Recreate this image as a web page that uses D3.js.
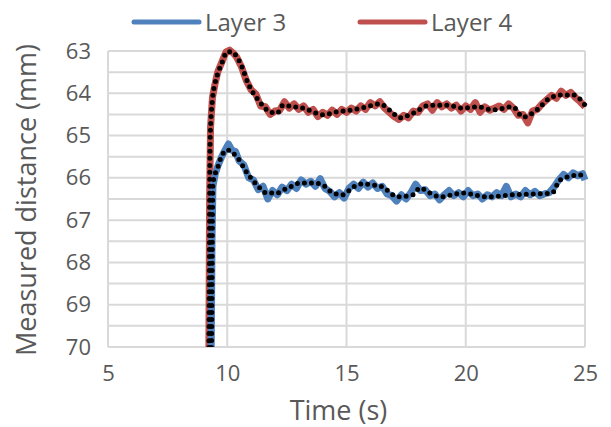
<!DOCTYPE html>
<html>
<head>
<meta charset="utf-8">
<script src="https://cdn.jsdelivr.net/npm/d3@7"></script>
<style>
  body { margin: 0; background: #fff; }
  text { font-family: "Open Sans", sans-serif; fill: #595959; }
  .grid line, .grid path { stroke: #d9d9d9; stroke-width: 2; }
</style>
</head>
<body>
<div id="viz"></div>
<script>
//DATA
const xTicks = [5, 10, 15, 20, 25]
const yTicks = [63, 64, 65, 66, 67, 68, 69, 70]
const yGrid  = [63, 63.5, 64, 64.5, 65, 65.5, 66, 66.5, 67, 67.5, 68, 68.5, 69, 69.5, 70]
const seriesNames = ["Layer 3", "Layer 4"]

// Layer 3 raw (blue)
const layer3Time = [9.30, 9.33, 9.36, 9.40, 9.50, 9.62, 9.75, 9.90, 10.05, 10.2, 10.35, 10.5, 10.7, 10.9,
  11.1, 11.3, 11.5, 11.7, 11.9, 12.1, 12.3, 12.5, 12.7, 12.9, 13.1, 13.3, 13.5, 13.7, 13.9,
  14.1, 14.3, 14.5, 14.7, 14.9, 15.1, 15.3, 15.5, 15.7, 15.9, 16.1, 16.3, 16.5, 16.7, 16.9,
  17.1, 17.3, 17.5, 17.7, 17.9, 18.1, 18.3, 18.5, 18.7, 18.9, 19.1, 19.3, 19.5, 19.7, 19.9,
  20.1, 20.3, 20.5, 20.7, 20.9, 21.1, 21.3, 21.5, 21.7, 21.9, 22.1, 22.3, 22.5, 22.7, 22.9,
  23.1, 23.3, 23.5, 23.7, 23.9, 24.1, 24.3, 24.5, 24.7, 24.9, 25.0]
const layer3Raw = [71.5, 70.0, 67.5, 66.2, 65.9, 65.7, 65.52, 65.35, 65.2, 65.35, 65.38, 65.6, 65.7, 66.0,
  66.05, 66.28, 66.20, 66.50, 66.30, 66.40, 66.22, 66.30, 66.15, 66.25, 66.05, 66.15, 66.08, 66.20, 66.02,
  66.25, 66.32, 66.45, 66.35, 66.48, 66.25, 66.15, 66.25, 66.10, 66.22, 66.12, 66.25, 66.20, 66.38, 66.42,
  66.55, 66.40, 66.50, 66.35, 66.15, 66.30, 66.28, 66.42, 66.38, 66.52, 66.40, 66.30, 66.42, 66.35, 66.45,
  66.30, 66.42, 66.38, 66.50, 66.40, 66.45, 66.35, 66.42, 66.20, 66.45, 66.38, 66.45, 66.30, 66.40, 66.32,
  66.42, 66.38, 66.35, 66.22, 66.05, 65.92, 66.00, 65.88, 65.95, 65.90, 66.05]

// Layer 4 raw (red)
const layer4Time = [9.20, 9.23, 9.26, 9.30, 9.38, 9.48, 9.60, 9.78, 9.95, 10.1, 10.25, 10.4, 10.6, 10.8,
  11.0, 11.2, 11.4, 11.6, 11.8, 12.0, 12.2, 12.4, 12.6, 12.8, 13.0, 13.2, 13.4, 13.6, 13.8,
  14.0, 14.2, 14.4, 14.6, 14.8, 15.0, 15.2, 15.4, 15.6, 15.8, 16.0, 16.2, 16.4, 16.6, 16.8,
  17.0, 17.2, 17.4, 17.6, 17.8, 18.0, 18.2, 18.4, 18.6, 18.8, 19.0, 19.2, 19.4, 19.6, 19.8,
  20.0, 20.2, 20.4, 20.6, 20.8, 21.0, 21.2, 21.4, 21.6, 21.8, 22.0, 22.2, 22.4, 22.6, 22.8,
  23.0, 23.2, 23.4, 23.6, 23.8, 24.0, 24.2, 24.4, 24.6, 24.8, 25.0]
const layer4Raw = [71.5, 70.0, 66.5, 64.8, 64.1, 63.8, 63.5, 63.25, 63.02, 62.98, 63.05, 63.15, 63.38, 63.7,
  63.92, 64.02, 64.30, 64.32, 64.50, 64.42, 64.40, 64.20, 64.35, 64.25, 64.38, 64.30, 64.45, 64.38, 64.55,
  64.45, 64.52, 64.40, 64.50, 64.38, 64.45, 64.35, 64.42, 64.30, 64.38, 64.22, 64.30, 64.20, 64.35, 64.45,
  64.55, 64.62, 64.52, 64.58, 64.42, 64.45, 64.30, 64.25, 64.40, 64.22, 64.32, 64.25, 64.35, 64.28, 64.42,
  64.30, 64.38, 64.22, 64.45, 64.32, 64.40, 64.35, 64.30, 64.38, 64.25, 64.35, 64.52, 64.50, 64.70, 64.42,
  64.38, 64.25, 64.15, 64.05, 64.12, 63.95, 64.05, 63.98, 64.10, 64.20, 64.32]

// moving averages (black dotted)
const layer3AvgTime = [9.30, 9.34, 9.40, 9.61, 9.70, 9.99, 10.41, 10.83, 11.25, 11.67, 12.09, 12.34, 12.63,
  13.05, 13.60, 14.01, 14.43, 14.85, 15.27, 15.69, 16.11, 16.40, 16.70, 17.12, 17.79, 18.08, 18.50,
  18.92, 19.88, 20.89, 21.98, 22.82, 23.62, 23.95, 24.79, 25.0]
const layer3Avg = [71.5, 70.0, 66.12, 65.74, 65.58, 65.34, 65.51, 65.88, 66.17, 66.36, 66.36, 66.29, 66.22,
  66.12, 66.12, 66.17, 66.36, 66.40, 66.22, 66.14, 66.17, 66.19, 66.29, 66.45, 66.40, 66.24, 66.36,
  66.45, 66.36, 66.45, 66.40, 66.38, 66.36, 66.05, 65.93, 66.03]
const layer4AvgTime = [9.20, 9.23, 9.28, 9.31, 9.39, 9.49, 9.61, 9.78, 9.99, 10.20, 10.41, 10.62, 10.87,
  11.37, 11.79, 12.09, 12.34, 12.76, 13.18, 13.60, 14.01, 14.60, 15.27, 15.86, 16.40, 16.95, 17.24,
  17.79, 18.50, 19.21, 19.88, 20.47, 21.14, 21.98, 22.40, 22.99, 23.53, 24.04, 24.50, 25.0]
const layer4Avg = [71.5, 70.0, 65.17, 64.70, 64.09, 63.76, 63.52, 63.28, 63.02, 63.02, 63.14, 63.38, 63.76,
  64.21, 64.44, 64.47, 64.28, 64.32, 64.35, 64.44, 64.51, 64.44, 64.39, 64.32, 64.25, 64.47, 64.58,
  64.47, 64.28, 64.28, 64.35, 64.32, 64.39, 64.32, 64.56, 64.39, 64.11, 64.04, 64.04, 64.28]

const COLORS = ["#4f81bd", "#c0504d"]

//MARGIN CONVENTION
var MARGIN = { LEFT: 108, RIGHT: 26, TOP: 51, BOTTOM: 80 }
var CANVAS = { WIDTH: 611 - MARGIN.LEFT - MARGIN.RIGHT,
               HEIGHT: 427 - MARGIN.TOP - MARGIN.BOTTOM }

const svg = d3.select("#viz").append("svg")
  .attr("width", 611)
  .attr("height", 427)
const svgCanvas = svg.append("g")
  .attr("transform", `translate(${MARGIN.LEFT}, ${MARGIN.TOP})`)

//SCALES
const xScale = d3.scaleLinear().domain([5, 25]).range([0, CANVAS.WIDTH])
const yScale = d3.scaleLinear().domain([63, 70]).range([0, CANVAS.HEIGHT])

// GRID
svgCanvas.append("g").attr("class", "grid")
  .selectAll("line").data(yGrid).join("line")
  .attr("x1", 0).attr("x2", CANVAS.WIDTH)
  .attr("y1", d => yScale(d)).attr("y2", d => yScale(d))
svgCanvas.append("g").attr("class", "grid")
  .selectAll("line").data(xTicks).join("line")
  .attr("x1", d => xScale(d)).attr("x2", d => xScale(d))
  .attr("y1", 0).attr("y2", CANVAS.HEIGHT)

//AXES
const gAxisX = svgCanvas.append("g")
  .attr("transform", `translate(0, ${CANVAS.HEIGHT})`)
  .call(d3.axisBottom(xScale).tickValues(xTicks).tickFormat(d3.format("d")).tickSize(0).tickPadding(18))
const gAxisY = svgCanvas.append("g")
  .call(d3.axisLeft(yScale).tickValues(yTicks).tickFormat(d3.format("d")).tickSize(0).tickPadding(17))
gAxisX.select(".domain").remove()
gAxisY.select(".domain").remove()
gAxisX.selectAll("text").attr("font-size", 22).attr("font-family", null).attr("fill", "#595959")
gAxisY.selectAll("text").attr("font-size", 22).attr("font-family", null).attr("fill", "#595959")

//LABELS
svg.append("text").text("Time (s)")
  .attr("x", MARGIN.LEFT + CANVAS.WIDTH / 2 - 8).attr("y", 420)
  .attr("text-anchor", "middle").attr("font-size", 27)
svg.append("text").text("Measured distance (mm)")
  .attr("transform", "translate(36, 200) rotate(-90)")
  .attr("text-anchor", "middle").attr("font-size", 27)

// LINES
svg.append("clipPath").attr("id", "plotClip")
  .append("rect").attr("x", -5).attr("y", -20)
  .attr("width", CANVAS.WIDTH + 10).attr("height", CANVAS.HEIGHT + 20)

const gLines = svgCanvas.append("g").attr("clip-path", "url(#plotClip)")

const rawLine = d3.line()
  .x(d => xScale(d[0]))
  .y(d => yScale(d[1]))
const avgLine = d3.line()
  .curve(d3.curveMonotoneX)
  .x(d => xScale(d[0]))
  .y(d => yScale(d[1]))

const rawSeries = [d3.zip(layer3Time, layer3Raw), d3.zip(layer4Time, layer4Raw)]
const avgSeries = [d3.zip(layer3AvgTime, layer3Avg), d3.zip(layer4AvgTime, layer4Avg)]

// red drawn first so blue sits on top at the rise
;[1, 0].forEach(i => {
  gLines.append("path").attr("d", rawLine(rawSeries[i]))
    .attr("fill", "none").attr("stroke", COLORS[i])
    .attr("stroke-width", 7).attr("stroke-linejoin", "round")
})
;[1, 0].forEach(i => {
  gLines.append("path").attr("d", avgLine(avgSeries[i]))
    .attr("fill", "none").attr("stroke", "#000")
    .attr("stroke-width", 5).attr("stroke-linecap", "round")
    .attr("stroke-dasharray", "0,7")
})

// LEGEND
const legendX = [134, 360]
const gLegend = svg.append("g")
seriesNames.forEach((name, i) => {
  gLegend.append("line")
    .attr("x1", legendX[i]).attr("x2", legendX[i] + 65)
    .attr("y1", 22).attr("y2", 22)
    .attr("stroke", COLORS[i]).attr("stroke-width", 5).attr("stroke-linecap", "round")
  gLegend.append("text").text(name)
    .attr("x", legendX[i] + 71).attr("y", 30.5)
    .attr("font-size", 24)
})
</script>
</body>
</html>
